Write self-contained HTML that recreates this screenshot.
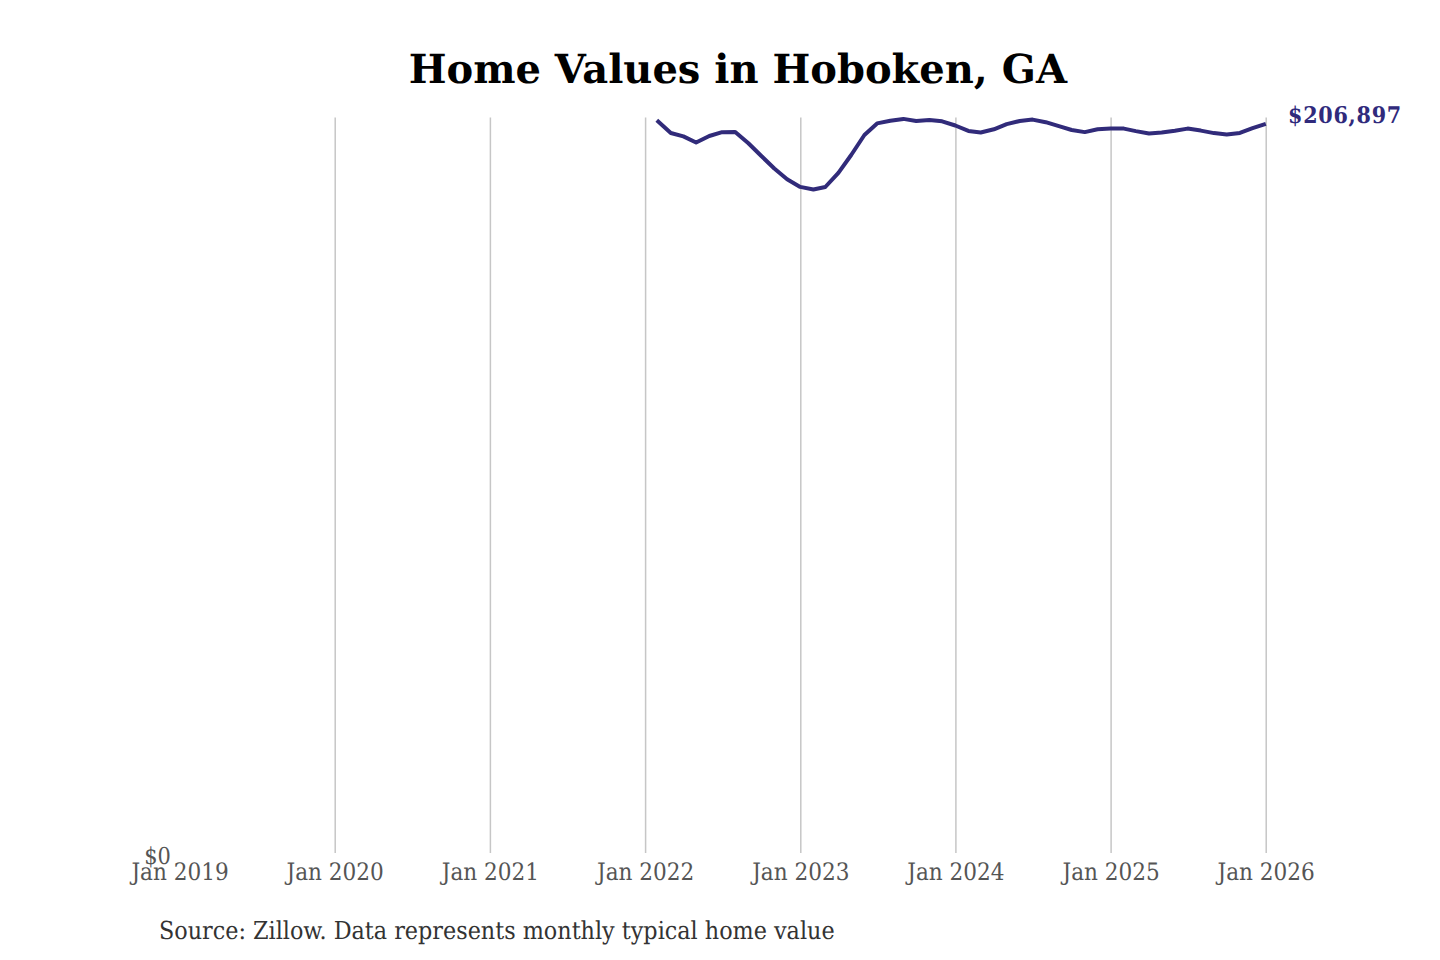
<!DOCTYPE html>
<html>
<head>
<meta charset="utf-8">
<title>Home Values in Hoboken, GA</title>
<style>
html,body{margin:0;padding:0;background:#fff;}
body{width:1440px;height:960px;overflow:hidden;}
svg{display:block;}
text{text-rendering:geometricPrecision;}
.t{font-family:"DejaVu Serif","Liberation Serif",serif;font-weight:bold;font-size:40px;fill:#000;}
.ax{font-family:"DejaVu Serif Condensed","DejaVu Serif","Liberation Serif",serif;font-stretch:condensed;font-size:24px;fill:#555;}
.src{font-family:"DejaVu Serif Condensed","DejaVu Serif","Liberation Serif",serif;font-stretch:condensed;font-size:24.8px;fill:#333;}
.lbl{font-family:"DejaVu Serif Condensed","DejaVu Serif","Liberation Serif",serif;font-stretch:condensed;font-weight:bold;font-size:23.0px;letter-spacing:0.75px;fill:#302a7c;}
.g{stroke:#c6c6c6;stroke-width:1.5;}
</style>
</head>
<body>
<svg width="1440" height="960" viewBox="0 0 1440 960">
<rect width="1440" height="960" fill="#fff"/>
<text class="t" x="737.8" y="83" text-anchor="middle">Home Values in Hoboken, GA</text>
<g class="g">
<line x1="335.2" y1="117.4" x2="335.2" y2="853"/>
<line x1="490.4" y1="117.4" x2="490.4" y2="853"/>
<line x1="645.6" y1="117.4" x2="645.6" y2="853"/>
<line x1="800.8" y1="117.4" x2="800.8" y2="853"/>
<line x1="955.9" y1="117.4" x2="955.9" y2="853"/>
<line x1="1111.1" y1="117.4" x2="1111.1" y2="853"/>
<line x1="1266.2" y1="117.4" x2="1266.2" y2="853"/>
</g>
<polyline fill="none" stroke="#312b7a" stroke-width="4" stroke-linejoin="round" points="656.8,120.3 670.8,133.0 683.4,136.4 696.1,142.5 709.3,136.0 722.1,132.2 735.2,131.9 748.4,143.3 761.1,155.8 774.3,168.5 787.1,179.3 800.2,186.9 813.4,189.5 825.3,187.0 838.4,172.8 851.2,155.0 864.4,135.0 877.1,123.4 890.3,120.7 903.4,118.9 916.2,121.0 929.4,120.0 942.1,121.3 955.3,125.5 968.4,130.9 980.7,132.5 993.9,129.3 1006.7,124.1 1019.8,121.0 1032.6,119.6 1045.7,122.2 1058.9,126.2 1071.7,130.0 1084.8,132.1 1097.6,129.3 1110.7,128.6 1123.9,128.6 1135.8,131.1 1149,133.5 1161.7,132.5 1174.9,130.7 1187.6,128.6 1200.8,130.6 1214,133.1 1226.7,134.4 1239.9,132.9 1252.6,128.2 1265.8,123.8"/>
<text class="lbl" x="1288" y="122.7">$206,897</text>
<g class="ax" text-anchor="middle">
<text x="180.0" y="879.5">Jan 2019</text>
<text x="335.2" y="879.5">Jan 2020</text>
<text x="490.4" y="879.5">Jan 2021</text>
<text x="645.6" y="879.5">Jan 2022</text>
<text x="800.8" y="879.5">Jan 2023</text>
<text x="955.9" y="879.5">Jan 2024</text>
<text x="1111.1" y="879.5">Jan 2025</text>
<text x="1266.2" y="879.5">Jan 2026</text>
</g>
<text class="ax" x="144.2" y="864.3" style="font-size:23.3px">$0</text>
<text class="src" x="159" y="939">Source: Zillow. Data represents monthly typical home value</text>
</svg>
</body>
</html>
